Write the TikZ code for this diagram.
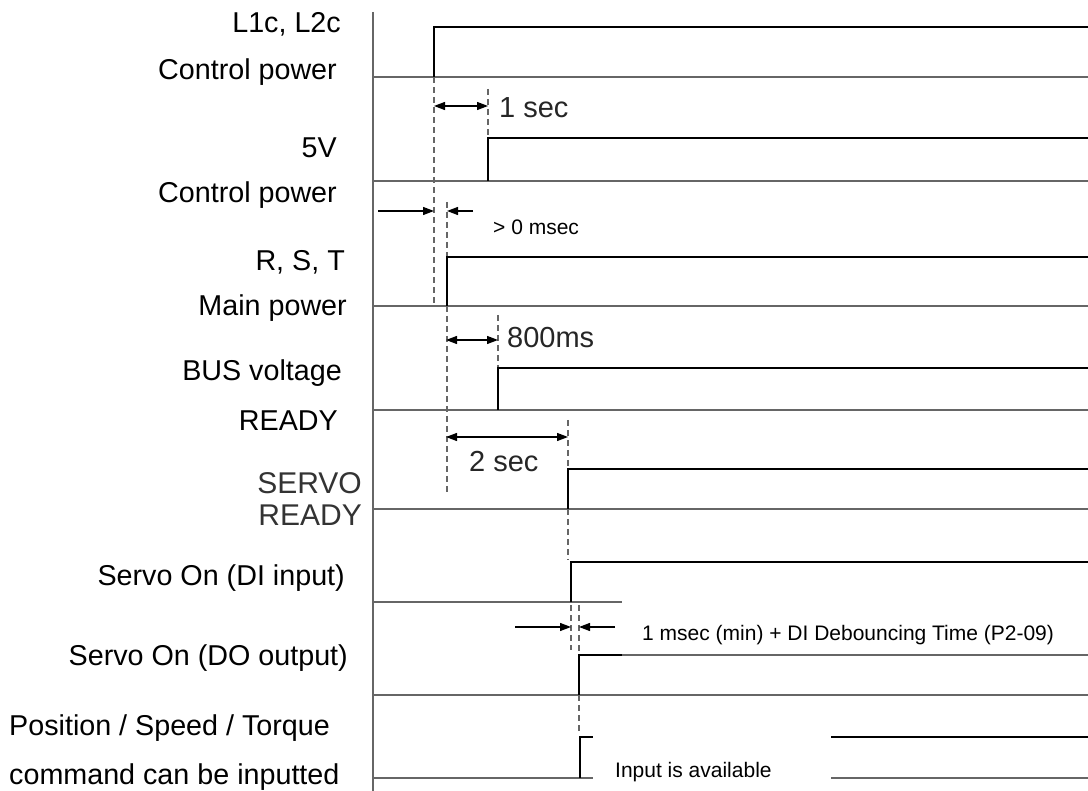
\documentclass[tikz,border=0pt]{standalone}
\usepackage{fontspec}
\setmainfont{Liberation Sans}
\usetikzlibrary{arrows.meta}
\begin{document}
\begin{tikzpicture}[x=1pt,y=-1pt,
  axisline/.style={draw=black!60, line width=1.5pt},
  base/.style={draw=black!60, line width=1.5pt},
  wave/.style={draw=black, line width=2.7pt, line join=miter},
  guide/.style={draw=black!60, line width=1.1pt, dash pattern=on 6pt off 4pt},
  dim/.style={draw=black, line width=1.3pt},
  tipb/.style={{Triangle[length=11pt,width=8pt]}-{Triangle[length=11pt,width=8pt]}},
  tipe/.style={-{Triangle[length=11pt,width=8pt]}},
  lbl/.style={anchor=east, inner sep=0pt, font=\fontsize{28.7}{34}\selectfont},
  srv/.style={anchor=east, inner sep=0pt, font=\fontsize{30}{34}\selectfont, text=black!80},
  tlbl/.style={anchor=west, inner sep=0pt, font=\fontsize{29}{34}\selectfont, text=black!85},
  slbl/.style={anchor=west, inner sep=0pt, font=\fontsize{21}{25}\selectfont},
]
\useasboundingbox (0,0) rectangle (1088,791);

% axis and baselines
\draw[axisline] (373,12) coordinate (ax1) -- (373,791) coordinate (ax2);
\draw[base] (373,77) -- (1088,77);
\draw[base] (373,181) -- (1088,181);
\draw[base] (373,306) -- (1088,306);
\draw[base] (373,410) -- (1088,410);
\draw[base] (373,509) -- (1088,509);
\draw[base] (373,602) -- (622,602);
\draw[base] (373,695) -- (1088,695);
\draw[base] (373,778) -- (593,778);
\draw[base] (831,778) -- (1088,778);

% guide (dashed) lines
\draw[guide] (434,77) -- (434,306);
\draw[guide] (488,89) -- (488,138);
\draw[guide] (447,202) -- (447,257);
\draw[guide] (447,306) -- (447,493);
\draw[guide] (498,315) -- (498,368);
\draw[guide] (568,420) -- (568,469);
\draw[guide] (568,509) -- (568,560);
\draw[guide] (571,605) -- (571,650);
\draw[guide] (579,605) -- (579,655);
\draw[guide] (579,695) -- (579,733);

% waveforms
\draw[wave] (434,77) -- (434,27) -- (1088,27);
\draw[wave] (488,181) -- (488,138) -- (1088,138);
\draw[wave] (447,306) -- (447,257) -- (1088,257);
\draw[wave] (498,410) -- (498,368) -- (1088,368);
\draw[wave] (568,509) -- (568,469) -- (1088,469);
\draw[wave] (571,602) -- (571,562) -- (1088,562);
\draw[wave] (579,695) -- (579,655) -- (622,655);
\draw[base] (622,655) -- (1088,655);
\draw[wave] (580,778) -- (580,737) -- (593,737);
\draw[wave] (831,737) -- (1088,737);

% dimension arrows
\coordinate (a1s) at (434,106); \coordinate (a1e) at (488,106);
\draw[dim,tipb] (a1s) -- (a1e);
\coordinate (a2s) at (378,211); \coordinate (a2e) at (434,211);
\draw[dim,tipe] (a2s) -- (a2e);
\coordinate (a3s) at (473,211); \coordinate (a3e) at (447,211);
\draw[dim,tipe] (a3s) -- (a3e);
\coordinate (a4s) at (446,340); \coordinate (a4e) at (498,340);
\draw[dim,tipb] (a4s) -- (a4e);
\coordinate (a5s) at (446,437); \coordinate (a5e) at (568,437);
\draw[dim,tipb] (a5s) -- (a5e);
\coordinate (a6s) at (515,627); \coordinate (a6e) at (571,627);
\draw[dim,tipe] (a6s) -- (a6e);
\coordinate (a7s) at (615,627); \coordinate (a7e) at (579,627);
\draw[dim,tipe] (a7s) -- (a7e);

% timing labels
\node[tlbl] (t1) at (499,108) {1 sec};
\node[slbl] (t2) at (493,227) {> 0 msec};
\node[tlbl] (t3) at (507,338) {800ms};
\node[tlbl] (t4) at (469,462) {2 sec};
\node[slbl] (t5) at (642,635) {1 msec (min) + DI Debouncing Time (P2-09)};
\node[slbl] (t6) at (615,772) {Input is available};

% signal labels
\node[lbl] (l1) at (341,24) {L1c, L2c};
\node[lbl] (l2) at (337,72) {Control power};
\node[lbl] (l3) at (337,148) {5V};
\node[lbl] (l4) at (337,195) {Control power};
\node[lbl] (l5) at (345,262) {R, S, T};
\node[lbl] (l6) at (347,308) {Main power};
\node[lbl] (l7) at (342,373) {BUS voltage};
\node[lbl] (l8) at (338,421) {READY};
\node[srv] (l9) at (362,483) {SERVO};
\node[srv] (l10) at (362,515) {READY};
\node[lbl] (l11) at (345,578) {Servo On (DI input)};
\node[lbl] (l12) at (348,658) {Servo On (DO output)};
\node[lbl,anchor=west] (l13) at (9,728) {Position / Speed / Torque};
\node[lbl,anchor=west] (l14) at (9,777) {command can be inputted};
\end{tikzpicture}
\end{document}
